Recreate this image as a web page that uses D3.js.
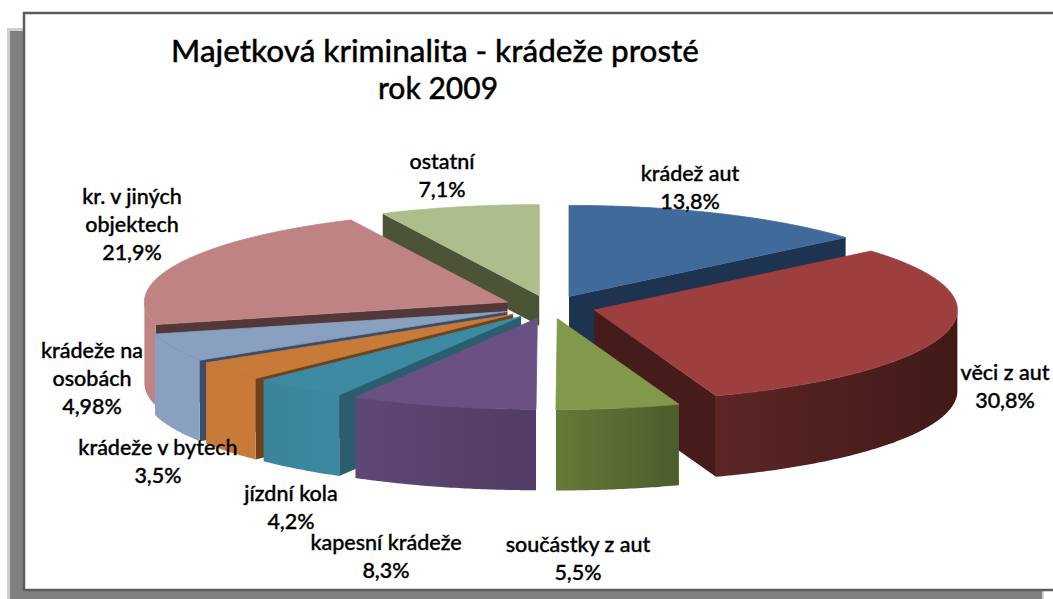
<!DOCTYPE html>
<html>
<head>
<meta charset="utf-8">
<script src="https://cdn.jsdelivr.net/npm/d3@7"></script>
<style>
  html, body { margin: 0; padding: 0; background: #fff; overflow: hidden; }
  svg { display: block; }
  text { font-family: Lato, "Open Sans", sans-serif; fill: #000; stroke: #000; stroke-width: 0.35; }
</style>
</head>
<body>
<script>
var categories = [
  ["krádež aut"],
  ["věci z aut"],
  ["součástky z aut"],
  ["kapesní krádeže"],
  ["jízdní kola"],
  ["krádeže v bytech"],
  ["krádeže na", "osobách"],
  ["kr. v jiných", "objektech"],
  ["ostatní"]
];
var shares = [13.8, 30.8, 5.5, 8.3, 4.2, 3.5, 4.98, 21.9, 7.1];

var topColors = ["#3f6a9a", "#9d3f3f", "#82994c", "#6a5083", "#3d8aa3", "#c87b38", "#89a0c1", "#c08383", "#aebd8c"];
var radialColors = ["#1e334f", "#451c1a", "#4f5e2c", "#513d67", "#2a5d6e", "#6e431c", "#3a4c66", "#53383a", "#4c5437"];
var rimColors = [
  ["#1e334f", "#1e334f"],
  ["#5c2625", "#411a18"],
  ["#667a39", "#4d5c2b"],
  ["#5f4776", "#503c65"],
  ["#3a859c", "#3b88a0"],
  ["#c87b38", "#c87b38"],
  ["#89a0c1", "#89a0c1"],
  ["#c08383", "#c08383"],
  ["#4c5437", "#4c5437"]
];

// label anchor (centre x, first baseline y) per slice
var labelPos = [[690, 181], [1005, 380], [578, 552], [386, 550], [291, 501], [158, 455], [92, 358], [132, 204], [442, 169]];
// back to front, the order the slices overlap in
var paintOrder = [8, 0, 7, 1, 2, 6, 5, 4, 3];

var width = 1053, height = 599;
var cx = 549.5, cy = 307, rx = 363, ry = 91, depth = 81, explode = 0.128;
// the wall of "ostatní" is hidden below this by the slices in front of it
var backWallDepth = 30;

var svg = d3.select("body").append("svg").attr("width", width).attr("height", height);
var defs = svg.append("defs");

// slide frame
svg.append("rect").attr("x", 7).attr("y", 28).attr("width", 18).attr("height", height - 28).attr("fill", "#cfcfcf");
svg.append("rect").attr("x", 10).attr("y", 31).attr("width", 15).attr("height", height - 31).attr("fill", "#808080");
svg.append("rect").attr("x", 10).attr("y", 591).attr("width", 1032).attr("height", 8).attr("fill", "#808080");
svg.append("rect").attr("x", 1042).attr("y", 591).attr("width", 2).attr("height", 8).attr("fill", "#cfcfcf");
svg.append("path").attr("d", "M1053,13H24V590H1053")
  .attr("fill", "#fff").attr("stroke", "#5c5c5c").attr("stroke-width", 2.5);

var pie = d3.pie().sort(null).value(function (d) { return d; });
var arcs = pie(shares);

function project(a) {
  return [rx * Math.sin(a), -ry * Math.cos(a)];
}

function polygon(points, dx, dy) {
  return "M" + points.map(function (p) { return (p[0] + dx) + "," + (p[1] + dy); }).join("L") + "Z";
}

function arcPoints(a0, a1) {
  var n = Math.max(2, Math.ceil((a1 - a0) / 0.01));
  return d3.range(n + 1).map(function (i) { return project(a0 + (a1 - a0) * i / n); });
}

var pieGroup = svg.append("g");

paintOrder.forEach(function (i) {
  var d = arcs[i];
  var a0 = d.startAngle, a1 = d.endAngle, mid = (a0 + a1) / 2;
  var off = project(mid);
  var ox = cx + off[0] * explode, oy = cy + off[1] * explode;
  var slice = pieGroup.append("g").attr("class", "slice");
  var wall = i === 8 ? backWallDepth : depth;

  // radial faces turned towards the viewer
  [[a0, -Math.sin(a0)], [a1, Math.sin(a1)]].forEach(function (face) {
    if (face[1] <= 0.02) return;
    var p = project(face[0]);
    slice.append("path")
      .attr("d", polygon([[0, 0], p, [p[0], p[1] + wall], [0, wall]], ox, oy))
      .attr("fill", radialColors[i]);
  });

  // outer wall, front half of the ellipse only
  var r0 = Math.max(a0, Math.PI / 2), r1 = Math.min(a1, Math.PI * 3 / 2);
  if (r1 > r0) {
    var id = "rim" + i;
    var grad = defs.append("linearGradient").attr("id", id);
    grad.append("stop").attr("offset", "0%").attr("stop-color", rimColors[i][0]);
    grad.append("stop").attr("offset", "100%").attr("stop-color", rimColors[i][1]);
    var upper = arcPoints(r0, r1);
    var lower = upper.slice().reverse().map(function (p) { return [p[0], p[1] + depth]; });
    slice.append("path")
      .attr("d", polygon(upper.concat(lower), ox, oy))
      .attr("fill", "url(#" + id + ")");
  }

  // thin stroke closes the antialiasing seam against the rim
  slice.append("path")
    .attr("d", polygon([[0, 0]].concat(arcPoints(a0, a1)), ox, oy))
    .attr("fill", topColors[i])
    .attr("stroke", topColors[i])
    .attr("stroke-width", 0.8);
});

// title
svg.append("text").attr("x", 435).attr("y", 62).attr("text-anchor", "middle")
  .attr("font-size", 31.4).attr("font-weight", 500).text("Majetková kriminalita - krádeže prosté");
svg.append("text").attr("x", 438).attr("y", 99).attr("text-anchor", "middle")
  .attr("font-size", 30).attr("font-weight", 500).text("rok 2009");

// data labels
var labels = svg.selectAll(".label").data(categories).enter().append("text")
  .attr("class", "label")
  .attr("text-anchor", "middle")
  .attr("font-size", 21.5)
  .attr("font-weight", 500);

labels.each(function (lines, i) {
  var rows = lines.concat(String(shares[i]).replace(".", ",") + "%");
  d3.select(this).selectAll("tspan").data(rows).enter().append("tspan")
    .attr("x", labelPos[i][0])
    .attr("y", function (r, k) { return labelPos[i][1] + k * 28; })
    .text(function (r) { return r; });
});
</script>
</body>
</html>
